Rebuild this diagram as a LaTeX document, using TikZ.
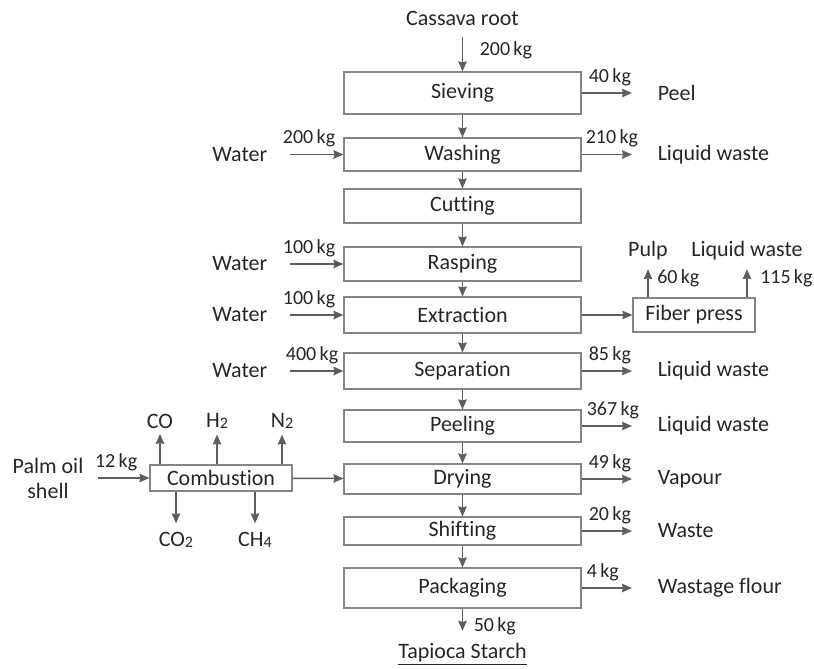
\documentclass[tikz,border=0pt]{standalone}
\usepackage{fontspec}
\setmainfont{Carlito}[Ligatures=NoCommon]
\usetikzlibrary{arrows.meta}
\definecolor{linegray}{HTML}{5E5E5E}
\definecolor{boxgray}{HTML}{858585}
\definecolor{txtgray}{HTML}{262626}
\newcommand{\chsub}[1]{\raisebox{-1.5pt}{\fontsize{16}{16}\selectfont #1}}

\begin{document}
\begin{tikzpicture}[x=1pt,y=-1pt,line width=1.5pt,>={Stealth[length=10pt,width=8.5pt,inset=1pt]},
  proc/.style={draw=boxgray,line width=1.1pt,minimum width=237pt,inner sep=0pt,text=txtgray,font=\fontsize{22}{25}\selectfont},
  lbl/.style={inner sep=0pt,text=txtgray,font=\fontsize{22}{25}\selectfont},
  kg/.style={inner sep=3.5pt,text=txtgray,font=\fontsize{20}{21}\selectfont},
  flow/.style={->,draw=linegray}]
\useasboundingbox (0,0) rectangle (814,669);
% main process column
\node[proc,minimum height=42pt] (sieve) at (462.5,93) {Sieving};
\node[proc,minimum height=33pt] (wash) at (462.5,154.5) {Washing};
\node[proc,minimum height=34pt] (cut) at (462.5,206) {Cutting};
\node[proc,minimum height=34pt] (rasp) at (462.5,264) {Rasping};
\node[proc,minimum height=36pt] (extr) at (462.5,315) {Extraction};
\node[proc,minimum height=36pt] (sep) at (462.5,371) {Separation};
\node[proc,minimum height=32pt] (peel) at (462.5,426) {Peeling};
\node[proc,minimum height=30pt] (dry) at (462.5,479) {Drying};
\node[proc,minimum height=28pt] (shift) at (462.5,531) {Shifting};
\node[proc,minimum height=40pt] (pack) at (462.5,588) {Packaging};
% side units
\node[proc,minimum width=122pt,minimum height=34pt] (fiber) at (694,315) {Fiber press};
\node[proc,minimum width=142pt,minimum height=26pt] (comb) at (221,478) {Combustion};

% feed and product
\node[lbl] (cassava) at (462.5,18) {Cassava root};
\node[lbl] (tapioca) at (462.5,654) {\underline{Tapioca Starch}};
\draw[flow,shorten <=11pt] (cassava) -- node[kg,right,xshift=13pt,yshift=-2pt] {200\,kg} (sieve);
\draw[flow,shorten >=12pt] (pack) -- node[kg,right,xshift=7pt,yshift=-1pt] {50\,kg} (tapioca);

% flow down the column
\draw[flow] (sieve) -- (wash);
\draw[flow] (wash) -- (cut);
\draw[flow] (cut) -- (rasp);
\draw[flow] (rasp) -- (extr);
\draw[flow] (extr) -- (sep);
\draw[flow] (sep) -- (peel);
\draw[flow] (peel) -- (dry);
\draw[flow] (dry) -- (shift);
\draw[flow] (shift) -- (pack);

% water inputs
\node[lbl,anchor=east] (w1) at (268,154.5) {Water};
\node[lbl,anchor=east] (w2) at (268,264) {Water};
\node[lbl,anchor=east] (w3) at (268,315) {Water};
\node[lbl,anchor=east] (w4) at (268,371) {Water};
\draw[flow,shorten <=22pt] (w1) -- node[kg,pos=1,above left,xshift=-4pt,yshift=3pt] {200\,kg} (wash);
\draw[flow,shorten <=22pt] (w2) -- node[kg,pos=1,above left,xshift=-4pt,yshift=3pt] {100\,kg} (rasp);
\draw[flow,shorten <=22pt] (w3) -- node[kg,pos=1,above left,xshift=-4pt,yshift=3pt] {100\,kg} (extr);
\draw[flow,shorten <=22pt] (w4) -- node[kg,pos=1,above left,xshift=-1pt,yshift=3pt] {400\,kg} (sep);

% outputs on the right
\node[lbl,anchor=west] (o1) at (657,93) {Peel};
\node[lbl,anchor=west] (o2) at (657,154.5) {Liquid waste};
\node[lbl,anchor=west] (o6) at (657,371) {Liquid waste};
\node[lbl,anchor=west] (o7) at (657,426) {Liquid waste};
\node[lbl,anchor=west] (o8) at (657,479) {Vapour};
\node[lbl,anchor=west] (o9) at (657,531) {Waste};
\node[lbl,anchor=west] (o10) at (657,588) {Wastage flour};
\draw[flow,shorten >=25pt] (sieve) -- node[kg,pos=0,above right,xshift=3pt,yshift=3pt] {40\,kg} (o1);
\draw[flow,shorten >=25pt] (wash) -- node[kg,pos=0,above right,yshift=3pt] {210\,kg} (o2);
\draw[flow,shorten >=25pt] (sep) -- node[kg,pos=0,above right,xshift=3pt,yshift=3pt] {85\,kg} (o6);
\draw[flow,shorten >=25pt] (peel) -- node[kg,pos=0,above right,xshift=1pt,yshift=3pt] {367\,kg} (o7);
\draw[flow,shorten >=25pt] (dry) -- node[kg,pos=0,above right,xshift=3pt,yshift=3pt] {49\,kg} (o8);
\draw[flow,shorten >=25pt] (shift) -- node[kg,pos=0,above right,xshift=3pt,yshift=3pt] {20\,kg} (o9);
\draw[flow,shorten >=25pt] (pack) -- node[kg,pos=0,above right,xshift=1pt,yshift=3pt] {4\,kg} (o10);

% fiber press branch
\node[lbl] (pulp) at (648,251) {Pulp};
\node[lbl] (pwaste) at (747,251) {Liquid waste};
\draw[flow] (extr) -- (fiber);
\draw[flow,shorten >=8pt] (fiber.north -| pulp) -- node[kg,pos=0,anchor=base west,xshift=5pt,yshift=14pt] {60\,kg} (pulp);
\draw[flow,shorten >=8pt] (fiber.north -| pwaste) -- node[kg,pos=0,anchor=base west,xshift=9pt,yshift=14pt] {115\,kg} (pwaste);

% combustion of palm oil shell
\node[lbl,align=center] (palm) at (48,478) {Palm oil\\shell};
\node[lbl] (co) at (160,421) {CO};
\node[lbl] (h2) at (217,421) {H\chsub{2}};
\node[lbl] (n2) at (282,421) {N\chsub{2}};
\node[lbl] (co2) at (176,540) {CO\chsub{2}};
\node[lbl] (ch4) at (255,540) {CH\chsub{4}};
\draw[flow,shorten <=14pt] (palm) -- node[kg,pos=1,above left,xshift=-8pt,yshift=3pt] {12\,kg} (comb);
\draw[flow] (comb) -- (dry);
\draw[flow,shorten >=5pt] (comb.north -| co) -- (co);
\draw[flow,shorten >=5pt] (comb.north -| h2) -- (h2);
\draw[flow,shorten >=5pt] (comb.north -| n2) -- (n2);
\draw[flow,shorten >=8pt] (comb.south -| co2) -- (co2);
\draw[flow,shorten >=8pt] (comb.south -| ch4) -- (ch4);
\end{tikzpicture}
\end{document}
